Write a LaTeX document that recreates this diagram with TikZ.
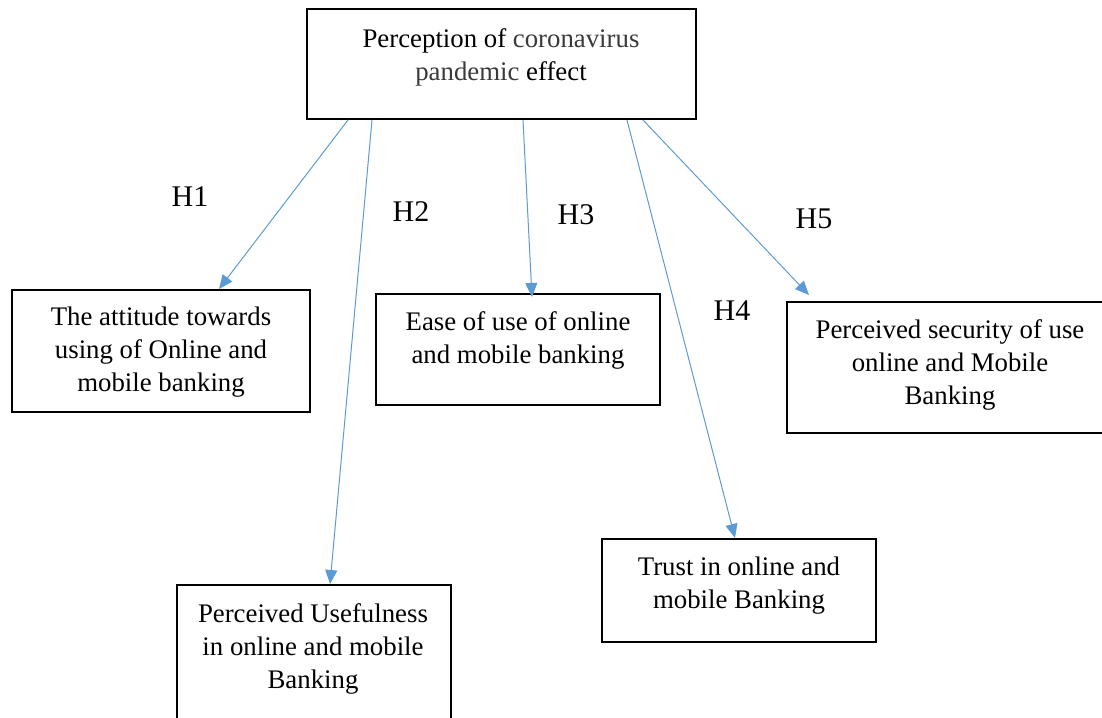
\documentclass[tikz,border=0pt]{standalone}
\usepackage{fontspec}
\setmainfont{Liberation Serif}
\usetikzlibrary{arrows.meta}
\definecolor{arrowblue}{HTML}{5B9BD5}
\definecolor{greytext}{HTML}{3A3A3A}
\begin{document}
\begin{tikzpicture}[x=0.5pt,y=-0.5pt,
  box/.style={draw=black,line width=1pt,rectangle,inner sep=0pt},
  txt/.style={align=center,inner sep=0pt,font=\fontsize{13.4}{16.5}\selectfont},
  hlab/.style={inner sep=0pt,font=\fontsize{15}{17}\selectfont},
  arr/.style={draw=arrowblue,line width=0.5pt,-{Triangle[length=7pt,width=6pt]}}]
\useasboundingbox (0,0) rectangle (1102,717);
\clip (0,0) rectangle (1102,717);
% boxes
\node[box,minimum width=194.5pt,minimum height=55pt] (top) at (501.5,64) {};
\node[box,minimum width=149pt,minimum height=61pt] (att) at (161,351) {};
\node[box,minimum width=142pt,minimum height=55.5pt] (ease) at (518,349.5) {};
\node[box,minimum width=137pt,minimum height=80pt] (use) at (314,665) {};
\node[box,minimum width=137pt,minimum height=51.5pt] (trust) at (739,590.5) {};
\node[box,minimum width=161.5pt,minimum height=65.5pt] (sec) at (948.5,367.5) {};
% texts
\node[txt] (ttop) at (501,57) {Perception of \textcolor{greytext}{coronavirus}\\\textcolor{greytext}{pandemic} effect};
\node[txt] (tatt) at (161,352) {The attitude towards\\using of Online and\\mobile banking};
\node[txt] (tease) at (518,340) {Ease of use of online\\and mobile banking};
\node[txt] (tuse) at (313,649) {Perceived Usefulness\\in online and mobile\\Banking};
\node[txt] (ttrust) at (739,585.5) {Trust in online and\\mobile Banking};
\node[txt] (tsec) at (950,364.5) {Perceived security of use\\online and Mobile\\Banking};
% labels
\node[hlab] (h1) at (190,197) {H1};
\node[hlab] (h2) at (411,212) {H2};
\node[hlab] (h3) at (576,215) {H3};
\node[hlab] (h4) at (732,311) {H4};
\node[hlab] (h5) at (814,219) {H5};
% arrows
\draw[arr] ([xshift=21pt]top.south west) -- ([xshift=104pt]att.north west);
\draw[arr] ([xshift=33pt]top.south west) -- ([xshift=77pt]use.north west);
\draw[arr] ([xshift=108.5pt]top.south west) -- ([xshift=78.5pt,yshift=-2pt]ease.north west);
\draw[arr] ([xshift=160.5pt]top.south west) -- ([xshift=67pt]trust.north west);
\draw[arr] ([xshift=168.5pt]top.south west) -- ([xshift=11.5pt,yshift=3pt]sec.north west);
\end{tikzpicture}
\end{document}
